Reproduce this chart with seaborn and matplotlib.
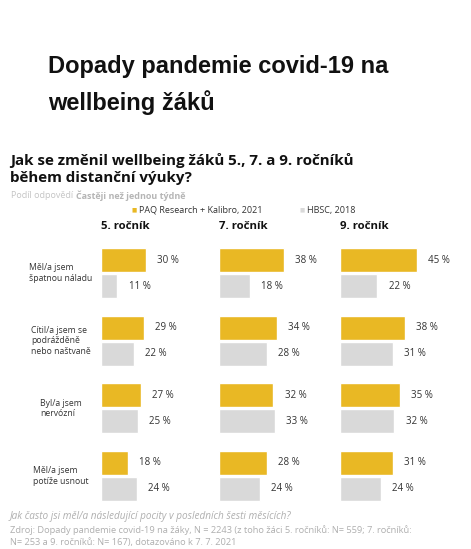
import numpy as np
import pandas as pd
import seaborn as sns
import matplotlib
matplotlib.use("Agg")
from matplotlib import pyplot as plt
from matplotlib import transforms

# data (share answering "more often than once a week", %)
grades = ["5. ročník", "7. ročník", "9. ročník"]
feelings = ["Měl/a jsem\nšpatnou náladu",
            "Cítil/a jsem se\npodrážděně\nnebo naštvaně",
            "Byl/a jsem\nnervózní",
            "Měl/a jsem\npotíže usnout"]
sources = ["PAQ Research + Kalibro, 2021", "HBSC, 2018"]
paq_2021 = {"5. ročník": [30, 29, 27, 18],
            "7. ročník": [38, 34, 32, 28],
            "9. ročník": [45, 38, 35, 31]}
hbsc_2018 = {"5. ročník": [11, 22, 25, 24],
             "7. ročník": [18, 28, 33, 24],
             "9. ročník": [22, 31, 32, 24]}

YELLOW = "#E9B824"
GREY = "#D9D9D9"
TXT = "#333333"
LIGHT = "#AFAFAF"

rows = []
for g in grades:
    for i, f in enumerate(feelings):
        rows.append({"grade": g, "feeling": f, "source": sources[0], "value": paq_2021[g][i]})
        rows.append({"grade": g, "feeling": f, "source": sources[1], "value": hbsc_2018[g][i]})
df = pd.DataFrame(rows)

sns.set_theme(style="white")
plt.rcParams["font.family"] = ["Open Sans", "DejaVu Sans"]

W, H = 471, 549
fig = plt.figure(figsize=(W / 100, H / 100), dpi=100)

# pixel helpers
def fx(px):
    return px / W

def fy(py):
    return 1 - py / H

fig.text(fx(48), fy(66), "Dopady pandemie covid-19 na", fontsize=17, fontweight="bold",
         family=["Liberation Sans", "DejaVu Sans"], color="#111111", va="center")
fig.text(fx(48), fy(103), "wellbeing žáků", fontsize=17, fontweight="bold",
         family=["Liberation Sans", "DejaVu Sans"], color="#111111", va="center")

fig.text(fx(10), fy(160), "Jak se změnil wellbeing žáků 5., 7. a 9. ročníků", fontsize=10.9,
         fontweight="bold", color="#111111", va="center")
fig.text(fx(10), fy(178), "během distanční výuky?", fontsize=10.9,
         fontweight="bold", color="#111111", va="center")
t = fig.text(fx(11), fy(196), "Podíl odpovědí ", fontsize=6.5, color="#C4C4C4", va="center")
fig.canvas.draw()
bb = t.get_window_extent()
fig.text(bb.x1 / W, fy(196), "Častěji než jednou týdně", fontsize=6.5, color="#B5B5B5",
         fontweight="bold", va="center")

# legend
fig.text(fx(131), fy(210), "■", fontsize=4, color=YELLOW, va="center")
fig.text(fx(139), fy(210), sources[0], fontsize=6.5, color=TXT, va="center")
fig.text(fx(299), fy(210), "■", fontsize=4, color=GREY, va="center")
fig.text(fx(307), fy(210), sources[1], fontsize=6.5, color=TXT, va="center")

# panels: left edge in px and px per percent
panel_left = [101, 219, 340]
panel_scale = [1.49, 1.70, 1.70]
xmax = 60
top_px, bot_px = 239.2, 509.8

for k, g in enumerate(grades):
    ax = fig.add_axes([fx(panel_left[k]), fy(bot_px), xmax * panel_scale[k] / W,
                       (bot_px - top_px) / H])
    sub = df[df["grade"] == g]
    sns.barplot(data=sub, y="feeling", x="value", hue="source", orient="h",
                order=feelings, hue_order=sources, palette=[YELLOW, GREY],
                saturation=1, width=0.77, gap=0.08, legend=False, ax=ax)
    for cont in ax.containers:
        ax.bar_label(cont, labels=[f"{v:.0f} %" for v in cont.datavalues],
                     padding=8, fontsize=7, color=TXT)
    ax.set_xlim(0, xmax)
    ax.set_ylim(3.5, -0.5)
    ax.axis("off")
    ax.text(0, -0.6, g, fontsize=8.2, fontweight="bold", color="#111111",
            ha="left", va="bottom")
    if k == 0:
        tr = transforms.blended_transform_factory(fig.transFigure, ax.transData)
        for i, f in enumerate(feelings):
            ax.text(fx(61), i, f, transform=tr, fontsize=6.2, color=TXT,
                    ha="center", va="center", multialignment="left")

fig.text(fx(10), fy(516), "Jak často jsi měl/a následující pocity v posledních šesti měsících?",
         fontsize=7.2, style="italic", color=LIGHT, va="center")
fig.text(fx(10), fy(530), "Zdroj: Dopady pandemie covid-19 na žáky, N = 2243 (z toho žáci 5. ročníků: N= 559; 7. ročníků:",
         fontsize=6.7, color=LIGHT, va="center")
fig.text(fx(10), fy(543), "N= 253 a 9. ročníků: N= 167), dotazováno k 7. 7. 2021",
         fontsize=6.7, color=LIGHT, va="center")

fig.savefig("out.png", dpi=100, facecolor="white")
